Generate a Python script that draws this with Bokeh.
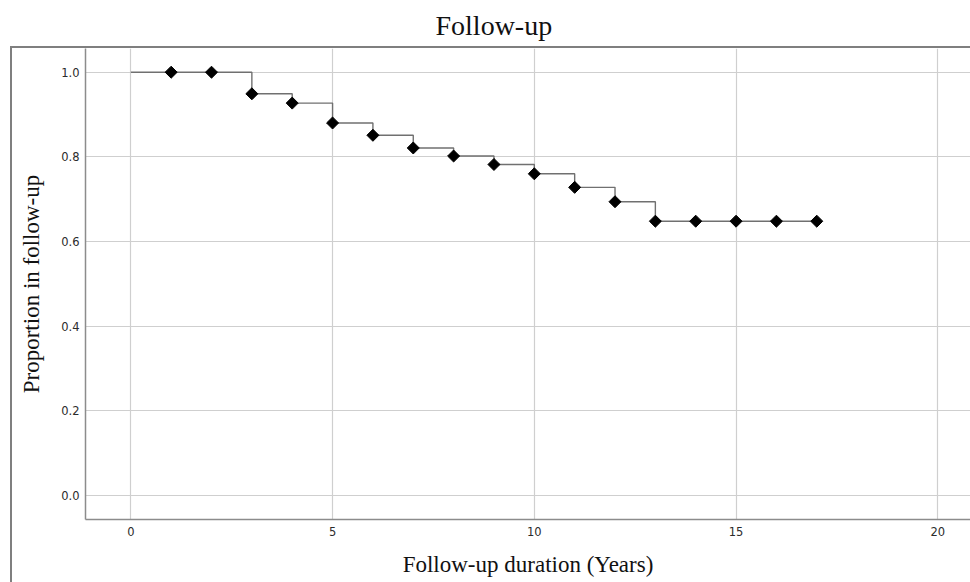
import math
from bokeh.plotting import figure
from bokeh.models import FixedTicker, NumeralTickFormatter, Range1d
from bokeh.embed import file_html
from bokeh.resources import INLINE

# ---- data ----
step_years = list(range(0, 18))
step_prop = [1.0, 1.0, 1.0, 0.949, 0.927, 0.880, 0.851, 0.821, 0.802, 0.782,
             0.760, 0.728, 0.694, 0.648, 0.648, 0.648, 0.648, 0.648]
marker_years = step_years[1:]
marker_prop = step_prop[1:]
x_ticks = [0, 5, 10, 15, 20]
y_ticks = [0.0, 0.2, 0.4, 0.6, 0.8, 1.0]

p = figure(width=970, height=582, output_backend="svg", toolbar_location=None,
           x_range=Range1d(-1.123, 20.81), y_range=Range1d(-0.0567, 1.056),
           min_border_left=85, min_border_right=0, min_border_top=48, min_border_bottom=63)

p.title.text = "Follow-up"
p.title.text_font = "Liberation Serif"
p.title.text_font_size = "28px"
p.title.text_font_style = "normal"
p.title.align = "left"
p.title.vertical_align = "top"
p.title.offset = 350
p.title.standoff = 12
p.title.text_color = "#111111"

p.step(step_years, step_prop, mode="after", line_color="#707070", line_width=1.4)
p.scatter(marker_years, marker_prop, marker="square", angle=math.pi / 4, size=8.5,
          fill_color="black", line_color="black")

for ax in (p.xaxis, p.yaxis):
    ax.axis_line_color = "#8c8c8c"
    ax.axis_line_width = 1.5
    ax.major_tick_line_color = None
    ax.minor_tick_line_color = None
    ax.major_tick_out = 0
    ax.major_tick_in = 0
    ax.minor_tick_out = 0
    ax.major_label_text_font = "DejaVu Sans"
    ax.major_label_text_font_size = "11.5px"
    ax.major_label_text_color = "#2b2b2b"
    ax.axis_label_text_font = "Liberation Serif"
    ax.axis_label_text_font_size = "23px"
    ax.axis_label_text_font_style = "normal"
    ax.axis_label_text_color = "#111111"

p.xaxis.ticker = FixedTicker(ticks=x_ticks)
p.yaxis.ticker = FixedTicker(ticks=y_ticks)
p.yaxis.formatter = NumeralTickFormatter(format="0.0")
p.xaxis.axis_label = "Follow-up duration (Years)"
p.yaxis.axis_label = "Proportion in follow-up"
p.yaxis.major_label_standoff = 6
p.xaxis.major_label_standoff = 7
p.yaxis.axis_label_standoff = 14
p.xaxis.axis_label_standoff = 13

p.xgrid.ticker = FixedTicker(ticks=x_ticks)
p.ygrid.ticker = FixedTicker(ticks=y_ticks)
p.grid.grid_line_color = "#cfcfcf"
p.grid.grid_line_width = 1.2

p.outline_line_color = None
p.background_fill_color = None
p.border_fill_color = None

# outer frame (left and top edges) drawn behind the transparent canvas
p.styles = {
    "background-color": "white",
    "background-image": "linear-gradient(#7f7f7f, #7f7f7f), linear-gradient(#7f7f7f, #7f7f7f)",
    "background-repeat": "no-repeat, no-repeat",
    "background-size": "2px 100%, 100% 2px",
    "background-position": "10px 46px, 10px 46px",
}

open("out.html", "w").write(file_html(p, INLINE))
